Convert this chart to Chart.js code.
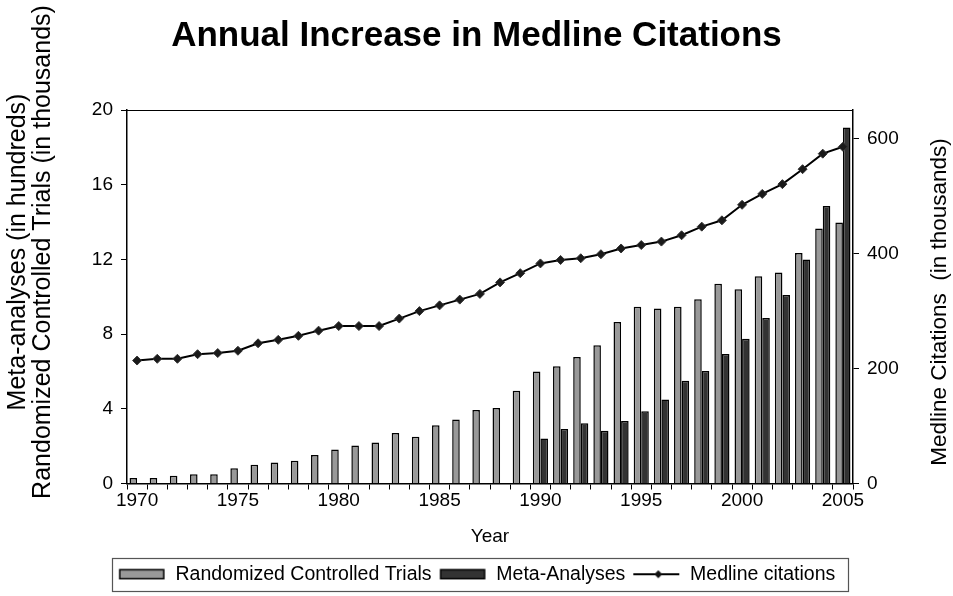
<!DOCTYPE html>
<html>
<head>
<meta charset="utf-8">
<script src="https://cdn.jsdelivr.net/npm/chart.js@4/dist/chart.umd.min.js"></script>
<style>
  body { margin: 0; background: #fff; }
</style>
</head>
<body>
<canvas id="myChart" width="953" height="596"></canvas>
<script>
const years = ["1970", "1971", "1972", "1973", "1974", "1975", "1976", "1977", "1978", "1979",
  "1980", "1981", "1982", "1983", "1984", "1985", "1986", "1987", "1988", "1989",
  "1990", "1991", "1992", "1993", "1994", "1995", "1996", "1997", "1998", "1999",
  "2000", "2001", "2002", "2003", "2004", "2005"];

// randomized controlled trials, thousands
const rctValues = [0.30, 0.30, 0.41, 0.50, 0.50, 0.81, 1.0, 1.13, 1.22, 1.52,
  1.82, 2.04, 2.2, 2.7, 2.5, 3.12, 3.43, 3.93, 4.04, 4.96,
  6.0, 6.28, 6.78, 7.4, 8.65, 9.46, 9.37, 9.46, 9.87, 10.7,
  10.4, 11.1, 11.3, 12.34, 13.66, 13.98];

// meta-analyses, hundreds
const metaValues = [0, 0, 0, 0, 0, 0, 0, 0, 0, 0,
  0, 0, 0, 0, 0, 0, 0, 0, 0, 0,
  2.41, 2.92, 3.23, 2.82, 3.35, 3.87, 4.5, 5.5, 6.02, 6.94,
  7.75, 8.86, 10.1, 12.0, 14.86, 19.06];

// medline citations, thousands
const medlineValues = [214, 217, 217, 225, 227, 231, 244, 250, 257, 266,
  274, 274, 274, 287, 300, 310, 320, 330, 350, 366,
  383, 389, 392, 399, 409, 415, 421, 432, 447, 458,
  485, 504, 521, 547, 574, 586];

const leftTicks = [0, 4, 8, 12, 16, 20];
const rightTicks = [0, 200, 400, 600];

const leftTitle = ["Meta-analyses (in hundreds)", "Randomized Controlled Trials (in thousands)"];
const rightTitle = "Medline Citations  (in thousands)";

const FONT = "'Liberation Sans', Arial, sans-serif";

function boxIcon(fill) {
  const c = document.createElement("canvas");
  c.width = 48;
  c.height = 12;
  const g = c.getContext("2d");
  g.fillStyle = fill;
  g.fillRect(2, 1.5, 44, 9);
  g.strokeStyle = "#000";
  g.lineWidth = 1.5;
  g.strokeRect(2, 1.5, 44, 9);
  return c;
}

function lineIcon() {
  const c = document.createElement("canvas");
  c.width = 48;
  c.height = 12;
  const g = c.getContext("2d");
  g.strokeStyle = "#000";
  g.lineWidth = 2;
  g.beginPath();
  g.moveTo(1, 6);
  g.lineTo(47, 6);
  g.stroke();
  g.fillStyle = "#111";
  g.beginPath();
  g.moveTo(26, 2);
  g.lineTo(30, 6);
  g.lineTo(26, 10);
  g.lineTo(22, 6);
  g.closePath();
  g.fill();
  return c;
}

const legendIcons = [boxIcon("#999999"), boxIcon("#333333"), lineIcon()];

const extras = {
  id: "extras",
  afterDraw(chart) {
    const { ctx, chartArea } = chart;
    ctx.save();
    // plot area top edge
    ctx.strokeStyle = "#000";
    ctx.lineWidth = 1;
    ctx.beginPath();
    ctx.moveTo(chartArea.left, chartArea.top + 0.5);
    ctx.lineTo(chartArea.right, chartArea.top + 0.5);
    ctx.stroke();

    ctx.fillStyle = "#000";
    ctx.textAlign = "center";
    ctx.textBaseline = "middle";

    // left axis title, two lines
    ctx.font = "25px " + FONT;
    leftTitle.forEach((txt, i) => {
      ctx.save();
      ctx.translate(18 + i * 25, 252);
      ctx.rotate(-Math.PI / 2);
      ctx.fillText(txt, 0, 0);
      ctx.restore();
    });

    // right axis title, reading bottom to top
    ctx.font = "22.5px " + FONT;
    ctx.save();
    ctx.translate(940, 302);
    ctx.rotate(-Math.PI / 2);
    ctx.fillText(rightTitle, 0, 0);
    ctx.restore();
    ctx.restore();

    // legend frame
    const hb = chart.legend.legendHitBoxes;
    if (hb && hb.length) {
      const l = Math.min(...hb.map((h) => h.left)) - 6;
      const r = Math.max(...hb.map((h) => h.left + h.width)) + 12;
      const t = hb[0].top - 7;
      const b = hb[0].top + hb[0].height + 6;
      ctx.save();
      ctx.strokeStyle = "#555";
      ctx.lineWidth = 1.2;
      ctx.strokeRect(Math.round(l) + 0.5, Math.round(t) + 0.5, Math.round(r - l), Math.round(b - t));
      ctx.restore();
    }
  },
};

const ctx = document.getElementById("myChart").getContext("2d");
const myChart = new Chart(ctx, {
  type: "bar",
  data: {
    labels: years,
    datasets: [
      {
        label: "Randomized Controlled Trials",
        data: rctValues,
        backgroundColor: "#999999",
        borderColor: "#000",
        borderWidth: 1.5,
        yAxisID: "y",
        order: 1,
      },
      {
        label: "Meta-Analyses",
        data: metaValues,
        backgroundColor: "#333333",
        borderColor: "#000",
        borderWidth: 1.5,
        yAxisID: "y",
        order: 1,
      },
      {
        type: "line",
        label: "Medline citations",
        data: medlineValues,
        borderColor: "#000",
        backgroundColor: "#1a1a1a",
        borderWidth: 2,
        pointStyle: "rectRot",
        pointRadius: 4.5,
        pointBorderWidth: 1,
        pointBorderColor: "#333",
        pointBackgroundColor: "#1a1a1a",
        tension: 0,
        yAxisID: "y1",
        order: 0,
      },
    ],
  },
  plugins: [extras],
  options: {
    responsive: false,
    animation: false,
    layout: { padding: { top: 0, left: 0, right: 0, bottom: 2 } },
    datasets: {
      bar: { categoryPercentage: 0.75, barPercentage: 1.0 },
    },
    plugins: {
      title: {
        display: true,
        text: "Annual Increase in Medline Citations",
        color: "#000",
        font: { family: FONT, size: 35, weight: "bold" },
        padding: { top: 15, bottom: 53 },
      },
      legend: {
        position: "bottom",
        labels: {
          usePointStyle: true,
          pointStyleWidth: 48,
          color: "#000",
          font: { family: FONT, size: 19.5 },
          padding: 7,
          sort: (a, b) => a.datasetIndex - b.datasetIndex,
          generateLabels(chart) {
            const items = Chart.defaults.plugins.legend.labels.generateLabels(chart);
            items.forEach((it) => {
              it.pointStyle = legendIcons[it.datasetIndex];
            });
            return items;
          },
        },
      },
      tooltip: { enabled: false },
    },
    scales: {
      x: {
        type: "category",
        offset: true,
        grid: {
          offset: true,
          drawOnChartArea: false,
          color: "#000",
          tickLength: 6,
          tickWidth: 1,
        },
        border: { color: "#000", width: 1.5 },
        ticks: {
          autoSkip: false,
          maxRotation: 0,
          color: "#000",
          padding: 0,
          font: { family: FONT, size: 19 },
          callback(value, index) {
            return index % 5 === 0 ? this.getLabelForValue(value) : "";
          },
        },
        title: {
          display: true,
          text: "Year",
          color: "#000",
          font: { family: FONT, size: 19 },
          padding: { top: 0, bottom: 9 },
        },
        afterFit(scale) {
          scale.height = 74;
        },
      },
      y: {
        position: "left",
        min: 0,
        max: 20,
        grid: { drawOnChartArea: false, color: "#000", tickLength: 6 },
        border: { color: "#000", width: 1.5 },
        ticks: {
          color: "#000",
          padding: 8,
          font: { family: FONT, size: 19 },
        },
        afterBuildTicks(scale) {
          scale.ticks = leftTicks.map((v) => ({ value: v }));
        },
        afterFit(scale) {
          scale.width = 127;
        },
      },
      y1: {
        position: "right",
        min: 0,
        max: 650,
        grid: { drawOnChartArea: false, color: "#000", tickLength: 6 },
        border: { color: "#000", width: 1.5 },
        ticks: {
          color: "#000",
          padding: 8,
          font: { family: FONT, size: 19 },
        },
        afterBuildTicks(scale) {
          scale.ticks = rightTicks.map((v) => ({ value: v }));
        },
        afterFit(scale) {
          scale.width = 100;
        },
      },
    },
  },
});
</script>
</body>
</html>
